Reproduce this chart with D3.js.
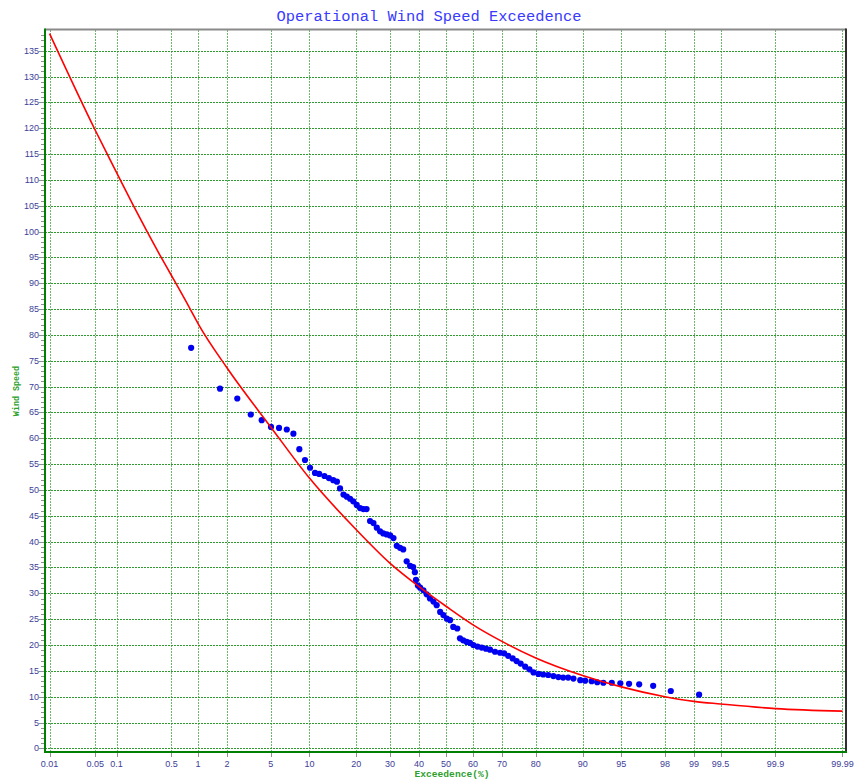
<!DOCTYPE html>
<html>
<head>
<meta charset="utf-8">
<script src="https://cdn.jsdelivr.net/npm/d3@7"></script>
<style>
body { margin: 0; background: #fff; }
</style>
</head>
<body>
<svg id="chart" width="855" height="784"></svg>
<script>
// probability axis labels (%)
var xTicks = [0.01, 0.05, 0.1, 0.5, 1, 2, 5, 10, 20, 30, 40, 50, 60, 70, 80, 90, 95, 98, 99, 99.5, 99.9, 99.99];
var yTicks = d3.range(0, 136, 5);

// fitted curve
var fitPct = [0.01, 0.05, 0.1, 0.168, 0.365, 0.5, 0.82, 1, 2, 5, 10, 20, 30, 40, 50, 60, 70, 80, 90, 95, 98, 99, 99.5, 99.9, 99.99];
var fitSpeed = [138.3, 119.6, 111.4, 105.0, 95.4, 91.5, 85.0, 82.2, 73.6, 62.2, 52.3, 42.3, 35.8, 31.3, 27.5, 23.9, 20.7, 17.5, 14.1, 11.9, 10.0, 9.1, 8.6, 7.7, 7.2];

// observed wind speeds
var obsPct = [0.84, 1.70, 2.51, 3.35, 4.19, 5.03, 5.86, 6.76, 7.61, 8.44,
  9.29, 10.1, 10.95, 11.7, 12.7, 13.6, 14.5, 15.3, 16.0, 16.8,
  17.6, 18.4, 19.2, 20.1, 21.0, 21.9, 22.8, 23.8, 24.8, 25.8,
  26.8, 27.8, 28.9, 30.0, 31.1, 32.2, 33.3, 34.4, 35.6, 36.8,
  37.9, 38.5, 38.9, 39.6, 40.4, 41.6, 42.8, 44.0, 45.3, 46.5,
  47.8, 49.0, 50.3, 51.5, 52.7, 54.2, 55.2, 56.4, 57.7, 58.9,
  60.1, 61.6, 63.1, 64.6, 66.0, 67.7, 69.4, 70.7, 72.0, 73.4,
  74.6, 75.8, 77.1, 78.3, 79.4, 80.7, 81.9, 83.1, 84.3, 85.4,
  86.4, 87.4, 88.4, 89.6, 90.4, 91.4, 92.2, 93.0, 94.0, 94.9,
  95.7, 96.5, 97.4, 98.25, 99.12];
var obsSpeed = [77.5, 69.6, 67.7, 64.6, 63.5, 62.2, 62.0, 61.7, 60.9, 57.9,
  55.8, 54.3, 53.3, 53.1, 52.7, 52.3, 51.9, 51.6, 50.3, 49.1,
  48.7, 48.3, 47.8, 47.1, 46.5, 46.3, 46.3, 44.0, 43.6, 42.7,
  42.0, 41.6, 41.4, 41.2, 40.7, 39.2, 38.8, 38.5, 36.2, 35.3,
  35.1, 34.1, 32.6, 31.5, 31.1, 30.6, 29.8, 29.0, 28.4, 27.7,
  26.4, 25.8, 25.1, 24.8, 23.5, 23.2, 21.3, 20.9, 20.6, 20.4,
  20.0, 19.7, 19.5, 19.3, 19.1, 18.7, 18.5, 18.4, 17.9, 17.4,
  16.9, 16.4, 15.8, 15.3, 14.7, 14.4, 14.3, 14.2, 14.0, 13.8,
  13.7, 13.7, 13.5, 13.2, 13.1, 13.0, 12.8, 12.7, 12.7, 12.6,
  12.5, 12.4, 12.1, 11.1, 10.4];

// inverse normal cdf (Acklam)
function probit(p) {
  var a = [-3.969683028665376e+01, 2.209460984245205e+02, -2.759285104469687e+02, 1.383577518672690e+02, -3.066479806614716e+01, 2.506628277459239e+00];
  var b = [-5.447609879822406e+01, 1.615858368580409e+02, -1.556989798598866e+02, 6.680131188771972e+01, -1.328068155288572e+01];
  var c = [-7.784894002430293e-03, -3.223964580411365e-01, -2.400758277161838e+00, -2.549732539343734e+00, 4.374664141464968e+00, 2.938163982698783e+00];
  var d = [7.784695709041462e-03, 3.224671290700398e-01, 2.445134137142996e+00, 3.754408661907416e+00];
  var pl = 0.02425, q, r;
  if (p < pl) {
    q = Math.sqrt(-2 * Math.log(p));
    return (((((c[0]*q+c[1])*q+c[2])*q+c[3])*q+c[4])*q+c[5]) / ((((d[0]*q+d[1])*q+d[2])*q+d[3])*q+1);
  }
  if (p > 1 - pl) {
    q = Math.sqrt(-2 * Math.log(1 - p));
    return -(((((c[0]*q+c[1])*q+c[2])*q+c[3])*q+c[4])*q+c[5]) / ((((d[0]*q+d[1])*q+d[2])*q+d[3])*q+1);
  }
  q = p - 0.5; r = q * q;
  return (((((a[0]*r+a[1])*r+a[2])*r+a[3])*r+a[4])*r+a[5])*q / (((((b[0]*r+b[1])*r+b[2])*r+b[3])*r+b[4])*r+1);
}

var plotLeft = 45, plotRight = 846, plotTop = 30, plotBottom = 752;

var zScale = d3.scaleLinear().domain([-3.762, 3.752]).range([plotLeft, plotRight]);
function x(p) { return zScale(probit(p / 100)); }
var y = d3.scaleLinear().domain([-0.7, 139]).range([plotBottom, plotTop]);

var svg = d3.select("#chart");
var gridColor = "#2f9a2f";

// grid
svg.append("g").selectAll("line").data(yTicks).enter().append("line")
  .attr("x1", plotLeft).attr("x2", plotRight)
  .attr("y1", d => Math.round(y(d)) + 0.5).attr("y2", d => Math.round(y(d)) + 0.5)
  .attr("stroke", gridColor).attr("stroke-dasharray", "2,1").attr("stroke-width", 1);

svg.append("g").selectAll("line").data(xTicks).enter().append("line")
  .attr("y1", plotTop).attr("y2", plotBottom)
  .attr("x1", d => Math.round(x(d)) + 0.5).attr("x2", d => Math.round(x(d)) + 0.5)
  .attr("stroke", gridColor).attr("stroke-opacity", 0.7).attr("stroke-dasharray", "2,1").attr("stroke-width", 1);

// observed points
svg.append("g").selectAll("circle").data(obsPct).enter().append("circle")
  .attr("cx", (d, i) => x(d))
  .attr("cy", (d, i) => y(obsSpeed[i]))
  .attr("r", 3.1)
  .attr("fill", "#0000f0");

// fitted curve
var line = d3.line()
  .x(d => x(d[0]))
  .y(d => y(d[1]))
  .curve(d3.curveMonotoneX);

svg.append("path")
  .datum(fitPct.map((p, i) => [p, fitSpeed[i]]))
  .attr("d", line)
  .attr("fill", "none")
  .attr("stroke", "#ff0000")
  .attr("stroke-width", 1.6);

// frame
svg.append("line").attr("x1", plotLeft).attr("x2", plotRight).attr("y1", plotTop - 0.5).attr("y2", plotTop - 0.5)
  .attr("stroke", "#8a8a8a").attr("stroke-width", 2);
svg.append("line").attr("x1", plotRight).attr("x2", plotRight).attr("y1", plotTop - 1.5).attr("y2", plotBottom)
  .attr("stroke", "#303030").attr("stroke-width", 2);
svg.append("line").attr("x1", plotLeft).attr("x2", plotRight + 1).attr("y1", plotBottom).attr("y2", plotBottom)
  .attr("stroke", "#008000").attr("stroke-width", 2);
svg.append("line").attr("x1", plotLeft).attr("x2", plotLeft).attr("y1", plotTop - 1.5).attr("y2", plotBottom + 1)
  .attr("stroke", "#008000").attr("stroke-width", 2);

// y ticks
svg.append("g").selectAll("line").data(d3.range(0, 139, 1)).enter().append("line")
  .attr("x1", d => d % 5 === 0 ? plotLeft - 6 : plotLeft - 4).attr("x2", plotLeft - 1)
  .attr("y1", d => Math.round(y(d)) + 0.5).attr("y2", d => Math.round(y(d)) + 0.5)
  .attr("stroke", "#909090").attr("stroke-width", 1);

svg.append("g").selectAll("text").data(yTicks).enter().append("text")
  .attr("x", plotLeft - 6)
  .attr("y", d => y(d) + 3)
  .attr("text-anchor", "end")
  .attr("font-family", "Liberation Sans, Arial, sans-serif")
  .attr("font-size", 9)
  .attr("fill", "#3d3d99")
  .text(d => d);

// x ticks
svg.append("g").selectAll("line").data(xTicks).enter().append("line")
  .attr("x1", d => Math.round(x(d)) + 0.5).attr("x2", d => Math.round(x(d)) + 0.5)
  .attr("y1", plotBottom + 1).attr("y2", plotBottom + 5)
  .attr("stroke", "#909090").attr("stroke-width", 1);

svg.append("g").selectAll("text").data(xTicks).enter().append("text")
  .attr("x", d => x(d))
  .attr("y", 767)
  .attr("text-anchor", "middle")
  .attr("font-family", "Liberation Sans, Arial, sans-serif")
  .attr("font-size", 9)
  .attr("fill", "#3d3d99")
  .text(d => d);

// titles
svg.append("text")
  .attr("x", 429).attr("y", 21)
  .attr("text-anchor", "middle")
  .attr("font-family", "Liberation Mono, Courier New, monospace")
  .attr("font-size", 15.4)
  .attr("fill", "#3a3aff")
  .text("Operational Wind Speed Exceedence");

svg.append("text")
  .attr("x", 452).attr("y", 777)
  .attr("text-anchor", "middle")
  .attr("font-family", "Liberation Mono, Courier New, monospace")
  .attr("font-weight", "bold")
  .attr("font-size", 9.6)
  .attr("fill", "#2f9f2f")
  .text("Exceedence(%)");

svg.append("text")
  .attr("transform", "translate(19,391) rotate(-90)")
  .attr("text-anchor", "middle")
  .attr("font-family", "Liberation Mono, Courier New, monospace")
  .attr("font-weight", "bold")
  .attr("font-size", 8.4)
  .attr("fill", "#2f9f2f")
  .text("Wind Speed");
</script>
</body>
</html>
